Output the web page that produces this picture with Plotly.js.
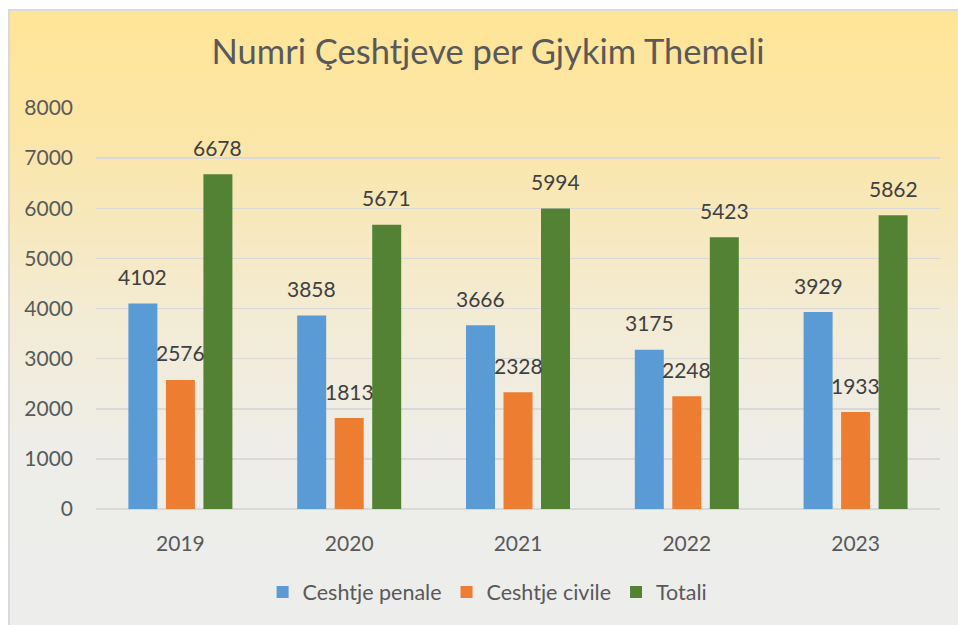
<!DOCTYPE html>
<html>
<head>
<meta charset="utf-8">
<script src="https://cdn.plot.ly/plotly-3.0.1.min.js"></script>
<style>
  html, body { margin: 0; padding: 0; background: #ffffff; width: 958px; height: 625px; overflow: hidden; }
  #bg { position: absolute; left: 8px; top: 9px; width: 970px; height: 630px;
        border: 2px solid #D9D9D9; box-sizing: border-box;
        background: linear-gradient(to bottom, #FFE597 0%, #FBE6A8 20%, #F3EBD3 48%, #EEEDE9 70%, #EDEDED 100%); }
  #chart { position: absolute; left: 0; top: 0; width: 958px; height: 625px; }
</style>
</head>
<body>
<div id="bg"></div>
<div id="chart"></div>
<script>
const years = ['2019', '2020', '2021', '2022', '2023'];
const penale = [4102, 3858, 3666, 3175, 3929];
const civile = [2576, 1813, 2328, 2248, 1933];
const totali = [6678, 5671, 5994, 5423, 5862];
const seriesNames = ['Ceshtje penale', 'Ceshtje civile', 'Totali'];
const seriesColors = ['#5B9BD5', '#ED7D31', '#548235'];
const yTicks = [0, 1000, 2000, 3000, 4000, 5000, 6000, 7000, 8000];

const font = 'Lato, "Open Sans", sans-serif';
const allSeries = [penale, civile, totali];

const traces = allSeries.map((vals, i) => ({
  type: 'bar',
  name: seriesNames[i],
  x: years,
  y: vals,
  marker: { color: seriesColors[i] },
  hoverinfo: 'skip'
}));

const annotations = [];
allSeries.forEach((vals, i) => {
  vals.forEach((v, j) => {
    annotations.push({
      x: j, y: v, xref: 'x', yref: 'y',
      text: String(v), showarrow: false,
      xshift: (i - 1) * 37.5, yshift: 27,
      yanchor: 'middle',
      font: { family: font, size: 21, color: '#404040' }
    });
  });
});

const layout = {
  width: 958, height: 625,
  paper_bgcolor: 'rgba(0,0,0,0)',
  plot_bgcolor: 'rgba(0,0,0,0)',
  margin: { l: 96, r: 18, t: 108, b: 116 },
  title: {
    text: 'Numri Çeshtjeve per Gjykim Themeli',
    font: { family: font, size: 34.5, color: '#595959' },
    x: 0.5094, xanchor: 'center', y: 1 - 52 / 625, yanchor: 'middle', yref: 'container'
  },
  barmode: 'group',
  bargap: 0.3335,
  bargroupgap: 0.227,
  xaxis: {
    type: 'category',
    range: [-0.5, 4.5],
    autorange: false,
    tickfont: { family: font, size: 21, color: '#595959' },
    showgrid: false, zeroline: false,
    showline: false,
    ticks: 'outside', ticklen: 8, tickcolor: 'rgba(0,0,0,0)',
    ticklabelstandoff: 8
  },
  yaxis: {
    range: [0, 8000],
    autorange: false,
    tickvals: yTicks,
    ticktext: yTicks.map(String),
    tickfont: { family: font, size: 21, color: '#595959' },
    showgrid: true, gridcolor: '#D9D9D9', gridwidth: 1.5,
    zeroline: true, zerolinecolor: '#D9D9D9', zerolinewidth: 1.5,
    showline: false,
    ticklabelstandoff: 22
  },
  showlegend: true,
  legend: {
    orientation: 'h', x: 0.464, xanchor: 'center', y: (625 - 592) / 625, yref: 'container', yanchor: 'middle',
    font: { family: font, size: 21.5, color: '#595959' },
    bgcolor: 'rgba(0,0,0,0)',
    itemwidth: 30
  },
  annotations: annotations
};

Plotly.newPlot('chart', traces, layout, { displayModeBar: false, staticPlot: true });
</script>
</body>
</html>
